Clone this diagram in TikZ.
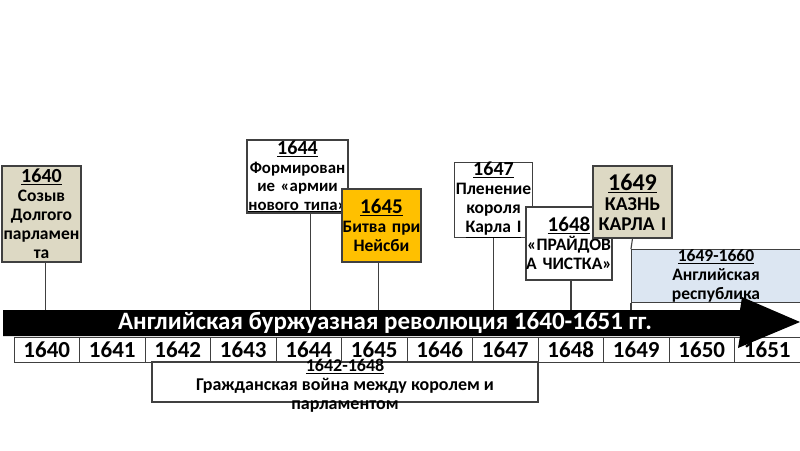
\documentclass[tikz,border=0pt]{standalone}
\usepackage{fontspec}
\setmainfont{Carlito}
\definecolor{beige}{HTML}{DDD9C4}
\definecolor{gold}{HTML}{FFC000}
\definecolor{pale}{HTML}{DCE6F2}
\definecolor{edge}{HTML}{404040}
\begin{document}
\begin{tikzpicture}[x=1pt,y=-1pt,
  evt/.style={draw=edge,line width=1.1pt,inner sep=0pt,align=center,font=\bfseries\fontsize{17.5}{19}\selectfont},
  cell/.style={draw=edge,line width=1pt,fill=white,minimum width=65.5,minimum height=25,inner sep=0pt,font=\bfseries\fontsize{23}{24}\selectfont},
  conn/.style={draw=edge,line width=1.1pt}]
\useasboundingbox (0,0) rectangle (800,450);
\coordinate (bartop) at (0,310);
% event boxes
\node[evt,fill=beige,minimum width=79,minimum height=96,text width=79] (b1640) at (41.5,214)
  {{\fontsize{20}{20}\selectfont\underline{1640}}\\Созыв\\Долгого\\парламен\\та};
\node[evt,fill=white,minimum width=101,minimum height=73,text width=101,font=\bfseries\fontsize{16.8}{18.5}\selectfont] (b1644) at (297.5,176.5)
  {{\fontsize{20}{20}\selectfont\underline{1644}}\\Формирован\\ие «армии\\\underline{нового типа»}};
\node[evt,fill=gold,minimum width=79,minimum height=73,text width=79] (b1645) at (381.5,225.5)
  {{\fontsize{21}{22}\selectfont\underline{1645}}\\Битва при\\Нейсби};
\node[evt,fill=white,minimum width=78,minimum height=73,text width=78] (b1647) at (493.5,200)
  {{\fontsize{20}{20}\selectfont\underline{1647}}\\Пленение\\короля\\\underline{Карла I}};
\node[evt,fill=white,minimum width=86,minimum height=73,text width=86] (b1648) at (569,243.5)
  {{\fontsize{21}{22}\selectfont\underline{1648}}\\«ПРАЙДОВ\\А ЧИСТКА»};
\node[evt,fill=beige,minimum width=79,minimum height=72,text width=79,font=\bfseries\fontsize{19.5}{20}\selectfont] (b1649) at (632.5,202)
  {{\fontsize{24}{25}\selectfont\underline{1649}}\\КАЗНЬ\\КАРЛА I};
\node[evt,fill=pale,minimum width=169,minimum height=44,text width=165] (brep) at (716,276)
  {\underline{1649-1660}\\Английская\\республика};
% connectors
\draw[conn] ([xshift=4]b1640.south) -- ([xshift=4]b1640.south |- bartop);
\draw[conn] ([xshift=13]b1644.south) -- ([xshift=13]b1644.south |- bartop);
\draw[conn] ([xshift=-3]b1645.south) -- ([xshift=-3]b1645.south |- bartop);
\draw[conn] (b1647.south) -- (b1647.south |- bartop);
\draw[conn] ([xshift=2]b1648.south) -- ([xshift=2]b1648.south |- bartop);
\draw[conn] (b1649.south) -- (brep.north west);
\draw[conn] (brep.south west) -- (brep.south west |- bartop);
% year cells
\foreach \i in {0,...,11}{
  \pgfmathtruncatemacro{\yr}{1640+\i}
  \node[cell] (y\yr) at ({46.75+65.5*\i},349.5) {\yr};
}
% arrow
\fill[black] (3,310) -- (740,310) -- (742,297) -- (800,322) -- (738,348) -- (740,336) -- (3,336) -- cycle;
\node[text=white,font=\bfseries\fontsize{25}{26}\selectfont] (title) at (385,323) {Английская буржуазная революция 1640-1651 гг.};
% civil war
\node[draw=edge,line width=1.1pt,minimum width=386,minimum height=40,inner sep=0pt] (war) at (345,382) {};
\node[align=center,font=\bfseries\fontsize{18}{19}\selectfont] (wartext) at (345,386)
  {\underline{1642-1648}\\Гражданская война между королем и\\парламентом};
\end{tikzpicture}
\end{document}
